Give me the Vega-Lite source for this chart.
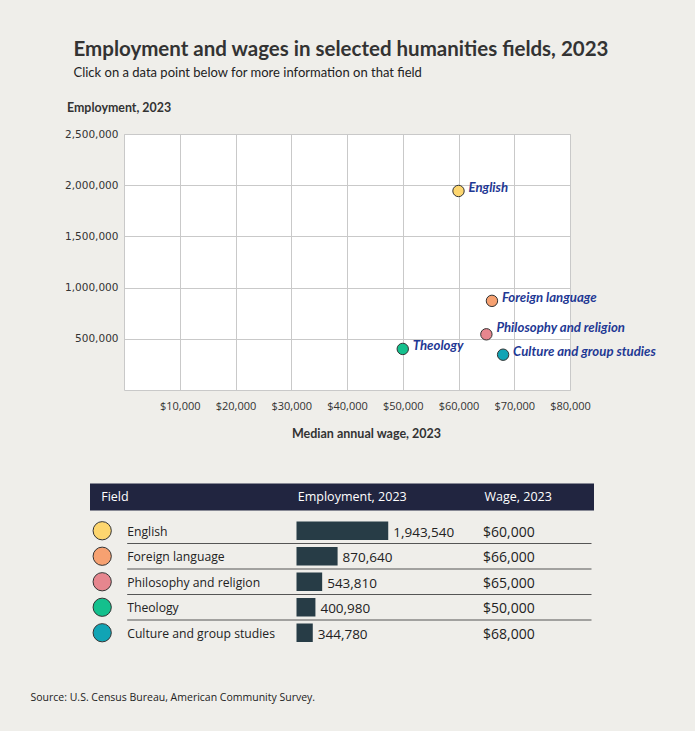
{
  "$schema": "https://vega.github.io/schema/vega-lite/v6.json",
  "background": "#efeeea",
  "padding": {"left": 30, "top": 39, "right": 40, "bottom": 29},
  "spacing": 43,
  "config": {
    "font": "Lato",
    "view": {"stroke": null}
  },
  "datasets": {
    "fields": [
      {"Field": "English", "Employment": 1943540, "Wage": 60000},
      {"Field": "Foreign language", "Employment": 870640, "Wage": 66000},
      {"Field": "Philosophy and religion", "Employment": 543810, "Wage": 65000},
      {"Field": "Theology", "Employment": 400980, "Wage": 50000},
      {"Field": "Culture and group studies", "Employment": 344780, "Wage": 68000}
    ]
  },
  "vconcat": [
    {
      "width": 446,
      "height": 256,
      "view": {"fill": "white", "stroke": "#c9c9c9"},
      "title": {
        "text": "Employment and wages in selected humanities fields, 2023",
        "subtitle": "Click on a data point below for more information on that field",
        "anchor": "start",
        "frame": "group",
        "dx": -50.5,
        "offset": 21,
        "font": "Lato",
        "fontSize": 20.5,
        "fontWeight": "bold",
        "color": "#333333",
        "subtitleFont": "Lato",
        "subtitleFontSize": 13,
        "subtitleColor": "#222222",
        "subtitlePadding": 7
      },
      "data": {"name": "fields"},
      "layer": [
        {
          "mark": {"type": "point", "filled": true, "size": 130, "stroke": "#333333", "strokeWidth": 1, "opacity": 1},
          "encoding": {
            "x": {
              "field": "Wage", "type": "quantitative",
              "scale": {"domain": [0, 80000], "nice": false, "zero": true},
              "axis": {
                "values": [10000, 20000, 30000, 40000, 50000, 60000, 70000, 80000],
                "format": "$,.0f",
                "title": "Median annual wage, 2023",
                "grid": true, "gridColor": "#c9c9c9",
                "domain": false, "ticks": false,
                "labelFlush": false,
                "labelFont": "Open Sans", "labelFontSize": 11, "labelColor": "#333333", "labelPadding": 10.5,
                "titleFont": "Lato", "titleFontSize": 12.5, "titleFontWeight": "bold", "titleColor": "#333333",
                "titlePadding": 15.5, "titleX": 242
              }
            },
            "y": {
              "field": "Employment", "type": "quantitative",
              "scale": {"domain": [0, 2500000], "nice": false},
              "axis": {
                "values": [500000, 1000000, 1500000, 2000000, 2500000],
                "format": ",.0f",
                "title": "Employment, 2023",
                "grid": true, "gridColor": "#c9c9c9",
                "domain": false, "ticks": false,
                "labelFont": "DejaVu Sans", "labelFontSize": 10.5, "labelColor": "#333333", "labelPadding": 6,
                "titleAngle": 0, "titleAlign": "left", "titleBaseline": "alphabetic",
                "titleX": -57.5, "titleY": -23,
                "titleFont": "Lato", "titleFontSize": 12.4, "titleFontWeight": "bold", "titleColor": "#333333"
              }
            },
            "fill": {
              "field": "Field", "type": "nominal",
              "scale": {
                "domain": ["English", "Foreign language", "Philosophy and religion", "Theology", "Culture and group studies"],
                "range": ["#fdd66f", "#f6a171", "#e6868e", "#14c08d", "#11a4b5"]
              },
              "legend": null
            }
          }
        },
        {
          "transform": [{"filter": "datum.Field !== 'Philosophy and religion'"}],
          "mark": {"type": "text", "align": "left", "baseline": "alphabetic", "dx": 10, "dy": 1, "font": "Lato", "fontSize": 13.2, "fontWeight": "bold", "fontStyle": "italic", "color": "#1f3994"},
          "encoding": {
            "x": {"field": "Wage", "type": "quantitative"},
            "y": {"field": "Employment", "type": "quantitative"},
            "text": {"field": "Field"}
          }
        },
        {
          "transform": [{"filter": "datum.Field === 'Philosophy and religion'"}],
          "mark": {"type": "text", "align": "left", "baseline": "alphabetic", "dx": 10, "dy": -2, "font": "Lato", "fontSize": 13.2, "fontWeight": "bold", "fontStyle": "italic", "color": "#1f3994"},
          "encoding": {
            "x": {"field": "Wage", "type": "quantitative"},
            "y": {"field": "Employment", "type": "quantitative"},
            "text": {"field": "Field"}
          }
        }
      ]
    },
    {
      "width": 446,
      "height": 127.5,
      "view": {"stroke": null},
      "title": {
        "text": "Source: U.S. Census Bureau, American Community Survey.",
        "orient": "bottom",
        "anchor": "start",
        "frame": "group",
        "dx": -93.5,
        "offset": 47,
        "font": "Open Sans",
        "fontSize": 10.5,
        "fontWeight": "normal",
        "color": "#222222"
      },
      "data": {"name": "fields"},
      "layer": [
        {
          "data": {"values": [{}]},
          "mark": {"type": "rect", "color": "#212540"},
          "encoding": {
            "x": {"value": -34},
            "x2": {"value": 470},
            "y": {"value": -34.5},
            "y2": {"value": -7.5}
          }
        },
        {
          "data": {"values": [{}]},
          "mark": {"type": "text", "align": "left", "baseline": "middle", "font": "Open Sans", "fontSize": 12.5, "color": "white"},
          "encoding": {"x": {"value": -22.8}, "y": {"value": -21}, "text": {"value": "Field"}}
        },
        {
          "data": {"values": [{}]},
          "mark": {"type": "text", "align": "left", "baseline": "middle", "font": "Open Sans", "fontSize": 12.5, "color": "white"},
          "encoding": {"x": {"value": 173.8}, "y": {"value": -21}, "text": {"value": "Employment, 2023"}}
        },
        {
          "data": {"values": [{}]},
          "mark": {"type": "text", "align": "left", "baseline": "middle", "font": "Open Sans", "fontSize": 12.5, "color": "white"},
          "encoding": {"x": {"value": 360.5}, "y": {"value": -21}, "text": {"value": "Wage, 2023"}}
        },
        {
          "mark": {"type": "point", "filled": true, "size": 333, "stroke": "#333333", "strokeWidth": 1, "opacity": 1},
          "encoding": {
            "x": {"value": -21.8},
            "y": {
              "field": "Field", "type": "nominal",
              "scale": {"domain": ["English", "Foreign language", "Philosophy and religion", "Theology", "Culture and group studies"], "paddingInner": 0, "paddingOuter": 0},
              "axis": null
            },
            "fill": {
              "field": "Field", "type": "nominal",
              "scale": {
                "domain": ["English", "Foreign language", "Philosophy and religion", "Theology", "Culture and group studies"],
                "range": ["#fdd66f", "#f6a171", "#e6868e", "#14c08d", "#11a4b5"]
              },
              "legend": null
            }
          }
        },
        {
          "mark": {"type": "text", "align": "left", "baseline": "alphabetic", "dy": 5, "font": "Open Sans", "fontSize": 12.2, "color": "#222222"},
          "encoding": {
            "x": {"value": 3.2},
            "y": {"field": "Field", "type": "nominal", "axis": null},
            "text": {"field": "Field"}
          }
        },
        {
          "transform": [{"filter": "datum.Field !== 'Culture and group studies'"}],
          "mark": {"type": "rule", "color": "#555555", "strokeWidth": 1},
          "encoding": {
            "x": {"value": 3.2},
            "x2": {"value": 467.5},
            "y": {"field": "Field", "type": "nominal", "bandPosition": 1, "axis": null}
          }
        },
        {
          "mark": {"type": "bar", "color": "#273c46", "height": 18.5},
          "encoding": {
            "x": {
              "field": "Employment", "type": "quantitative",
              "scale": {"domain": [0, 2000000], "range": [172.5, 266.9], "nice": false},
              "axis": null
            },
            "y": {"field": "Field", "type": "nominal", "axis": null}
          }
        },
        {
          "mark": {"type": "text", "align": "left", "baseline": "alphabetic", "dx": 5, "dy": 6, "font": "Open Sans", "fontSize": 13.5, "color": "#222222"},
          "encoding": {
            "x": {"field": "Employment", "type": "quantitative", "axis": null},
            "y": {"field": "Field", "type": "nominal", "axis": null},
            "text": {"field": "Employment", "type": "quantitative", "format": ","}
          }
        },
        {
          "mark": {"type": "text", "align": "left", "baseline": "alphabetic", "dy": 6, "font": "Open Sans", "fontSize": 14, "color": "#222222"},
          "encoding": {
            "x": {"value": 359},
            "y": {"field": "Field", "type": "nominal", "axis": null},
            "text": {"field": "Wage", "type": "quantitative", "format": "$,"}
          }
        }
      ]
    }
  ]
}
